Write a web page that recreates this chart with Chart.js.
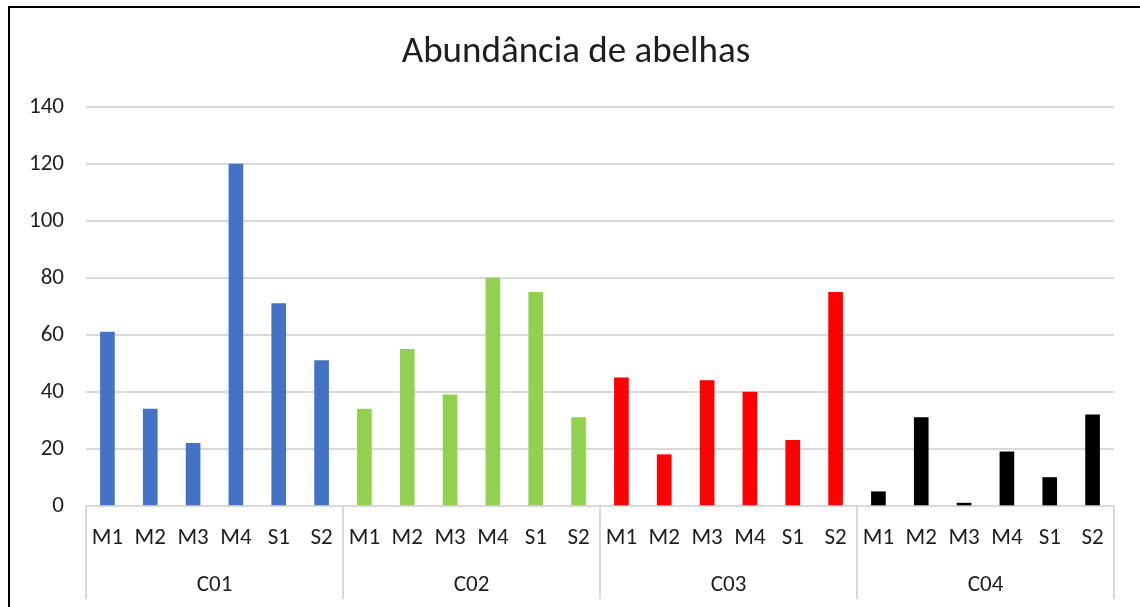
<!DOCTYPE html>
<html>
<head>
<meta charset="utf-8">
<script src="https://cdn.jsdelivr.net/npm/chart.js@4.4.1/dist/chart.umd.min.js"></script>
<style>
  body { margin: 0; background: #fff; overflow: hidden; }
  #frame {
    position: absolute; left: 8px; top: 6px;
    width: 1200px; height: 700px;
    border: 2px solid #000;
  }
  #wrap { position: absolute; left: 0; top: 0; width: 1140px; height: 607px; }
</style>
</head>
<body>
<div id="frame"></div>
<div id="wrap"><canvas id="myChart"></canvas></div>
<script>
// sampling sites and the samples taken at each
var groups = ['C01', 'C02', 'C03', 'C04'];
var samples = ['M1', 'M2', 'M3', 'M4', 'S1', 'S2'];

// bee counts per sample, one array per site
var c01 = [61, 34, 22, 120, 71, 51];
var c02 = [34, 55, 39, 80, 75, 31];
var c03 = [45, 18, 44, 40, 23, 75];
var c04 = [5, 31, 1, 19, 10, 32];

var groupColors = ['#4472C4', '#92D050', '#FF0000', '#000000'];
var yTicks = [0, 20, 40, 60, 80, 100, 120, 140];
var chartTitle = 'Abundância de abelhas';

var FONT = 'Carlito, Lato, "Open Sans", sans-serif';
var TEXT = '#1e1e1e';
var GRID = '#d9d9d9';

var labels = [], values = [], colors = [];
[c01, c02, c03, c04].forEach(function (arr, g) {
    arr.forEach(function (v, i) {
        labels.push(samples[i]);
        values.push(v);
        colors.push(groupColors[g]);
    });
});

// title is centred on the framed box, which is wider than the plot
var frameTitle = {
    id: 'frameTitle',
    afterDraw: function (chart) {
        var ctx = chart.ctx;
        ctx.save();
        ctx.fillStyle = TEXT;
        ctx.font = '37px ' + FONT;
        ctx.textAlign = 'center';
        ctx.textBaseline = 'middle';
        ctx.fillText(chartTitle, 576, 53);
        ctx.restore();
    }
};

// second row of the x axis: site names and the separators between sites
var groupAxis = {
    id: 'groupAxis',
    afterDraw: function (chart) {
        var x = chart.scales.x;
        var ctx = chart.ctx;
        var step = x.getPixelForValue(1) - x.getPixelForValue(0);
        var top = chart.chartArea.bottom;
        var n = samples.length;
        ctx.save();
        ctx.strokeStyle = GRID;
        ctx.lineWidth = 2;
        for (var g = 0; g <= groups.length; g++) {
            var px = Math.round(x.getPixelForValue(g * n) - step / 2);
            ctx.beginPath();
            ctx.moveTo(px, top);
            ctx.lineTo(px, top + 93);
            ctx.stroke();
        }
        ctx.fillStyle = TEXT;
        ctx.font = '23px ' + FONT;
        ctx.textAlign = 'center';
        ctx.textBaseline = 'middle';
        groups.forEach(function (name, g) {
            var cx = (x.getPixelForValue(g * n) + x.getPixelForValue(g * n + n - 1)) / 2;
            ctx.fillText(name, cx, top + 79);
        });
        ctx.restore();
    }
};

function drawChart()
{
    var ctx = document.getElementById('myChart').getContext('2d');
    var chart = new Chart(ctx, {
        type: 'bar',
        data: {
            labels: labels,
            datasets: [{
                label: 'Abundância',
                data: values,
                backgroundColor: colors,
                barThickness: 14
            }]
        },
        options: {
            responsive: true,
            maintainAspectRatio: false,
            animation: false,
            layout: { padding: { left: 0, right: 26, top: 107, bottom: 0 } },
            plugins: {
                legend: { display: false },
                tooltip: { enabled: false },
                title: { display: false }
            },
            scales: {
                x: {
                    grid: { display: false },
                    border: { color: GRID, width: 2 },
                    ticks: {
                        color: TEXT,
                        font: { family: FONT, size: 23 },
                        padding: 10,
                        autoSkip: false,
                        maxRotation: 0
                    },
                    afterFit: function (scale) { scale.height = 101; }
                },
                y: {
                    min: 0,
                    max: 140,
                    afterBuildTicks: function (scale) {
                        scale.ticks = yTicks.map(function (v) { return { value: v }; });
                    },
                    grid: { color: GRID, lineWidth: 2, drawTicks: false },
                    border: { display: false },
                    ticks: {
                        color: TEXT,
                        font: { family: FONT, size: 23 },
                        padding: 22
                    },
                    afterFit: function (scale) { scale.width = 86; }
                }
            }
        },
        plugins: [groupAxis, frameTitle]
    });
}
drawChart();
</script>
</body>
</html>
